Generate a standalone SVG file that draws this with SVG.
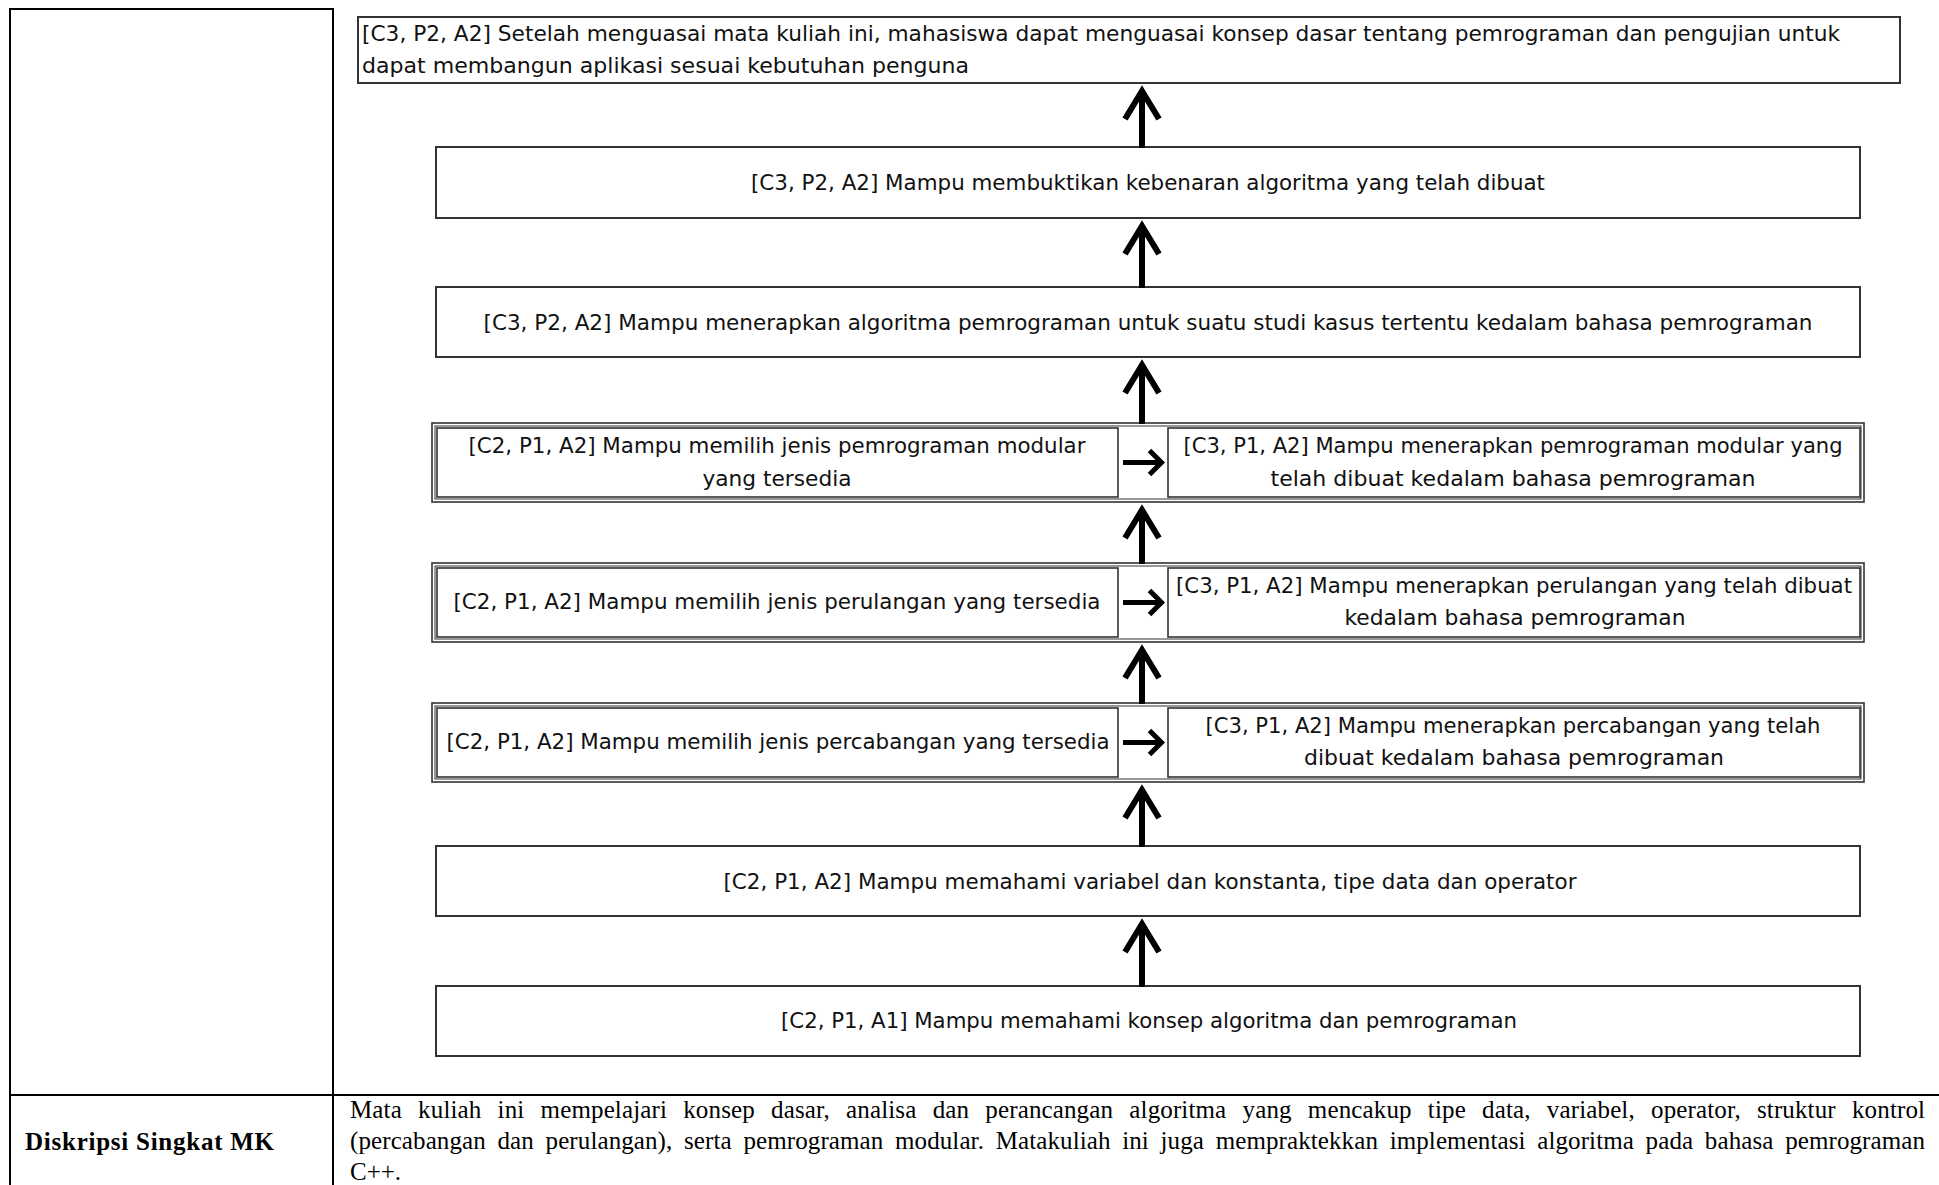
<svg xmlns="http://www.w3.org/2000/svg" width="1939" height="1185" viewBox="0 0 1939 1185">
<style>
.tbl{stroke:#000;stroke-width:2;fill:none}
.box{fill:#fff;stroke:#333;stroke-width:2}
.outer{fill:#fff;stroke:#333;stroke-width:1.6}
.frame{fill:none;stroke:#333;stroke-width:1}
.inbox{fill:#fff;stroke:#333;stroke-width:1.6}
.t{font-family:"DejaVu Sans","Open Sans",sans-serif;font-size:20.5px;fill:#111}
.c{text-anchor:middle}
.s{font-family:"Liberation Serif","Times New Roman",serif;font-size:25px;fill:#000}
.b{font-weight:bold}
.av{stroke:#000;stroke-width:6;fill:none}
.ah{stroke:#000;stroke-width:5;fill:none}
</style>
<defs>
<marker id="hv" markerUnits="userSpaceOnUse" viewBox="-40 -25 50 50" markerWidth="50" markerHeight="50" refX="0" refY="0" orient="auto" overflow="visible">
<path d="M-28,-17 L0,0 L-28,17" fill="none" stroke="#000" stroke-width="6"/>
</marker>
<marker id="hh" markerUnits="userSpaceOnUse" viewBox="-20 -20 30 40" markerWidth="30" markerHeight="40" refX="0" refY="0" orient="auto" overflow="visible">
<path d="M-12,-12 L0,0 L-12,12" fill="none" stroke="#000" stroke-width="5"/>
</marker>
</defs>
<rect width="1939" height="1185" fill="#fff"/>
<g id="table">
<line class="tbl" x1="10" y1="9" x2="10" y2="1185"/>
<line class="tbl" x1="9" y1="9" x2="334" y2="9"/>
<line class="tbl" x1="333" y1="8" x2="333" y2="1185"/>
<line class="tbl" x1="9" y1="1095" x2="1939" y2="1095"/>
</g>
<g id="n_goal">
<rect class="box" x="358" y="17" width="1542" height="66"/>
<text class="t" x="362" y="41" textLength="1478" lengthAdjust="spacingAndGlyphs">[C3, P2, A2] Setelah menguasai mata kuliah ini, mahasiswa dapat menguasai konsep dasar tentang pemrograman dan pengujian untuk</text>
<text class="t" x="362" y="73" textLength="607" lengthAdjust="spacingAndGlyphs">dapat membangun aplikasi sesuai kebutuhan penguna</text>
</g>
<g id="n_bukti">
<rect class="box" x="436" y="147" width="1424" height="71"/>
<text class="t c" x="1148" y="190" textLength="794" lengthAdjust="spacingAndGlyphs">[C3, P2, A2] Mampu membuktikan kebenaran algoritma yang telah dibuat</text>
</g>
<g id="n_terap">
<rect class="box" x="436" y="287" width="1424" height="70"/>
<text class="t c" x="1148" y="330" textLength="1329" lengthAdjust="spacingAndGlyphs">[C3, P2, A2] Mampu menerapkan algoritma pemrograman untuk suatu studi kasus tertentu kedalam bahasa pemrograman</text>
</g>
<g id="n_modular">
<rect class="outer" x="432" y="423" width="1432" height="79"/>
<rect class="frame" x="435" y="426" width="1426" height="73"/>
<rect class="inbox" x="437" y="428" width="681" height="69"/>
<rect class="inbox" x="1168" y="428" width="692" height="69"/>
<text class="t c" x="777" y="453" textLength="617" lengthAdjust="spacingAndGlyphs">[C2, P1, A2] Mampu memilih jenis pemrograman modular</text>
<text class="t c" x="777" y="486" textLength="149" lengthAdjust="spacingAndGlyphs">yang tersedia</text>
<text class="t c" x="1513" y="453" textLength="659" lengthAdjust="spacingAndGlyphs">[C3, P1, A2] Mampu menerapkan pemrograman modular yang</text>
<text class="t c" x="1513" y="486" textLength="485" lengthAdjust="spacingAndGlyphs">telah dibuat kedalam bahasa pemrograman</text>
</g>
<g id="n_perulangan">
<rect class="outer" x="432" y="563" width="1432" height="79"/>
<rect class="frame" x="435" y="566" width="1426" height="73"/>
<rect class="inbox" x="437" y="568" width="681" height="69"/>
<rect class="inbox" x="1168" y="568" width="692" height="69"/>
<text class="t c" x="777" y="609" textLength="647" lengthAdjust="spacingAndGlyphs">[C2, P1, A2] Mampu memilih jenis perulangan yang tersedia</text>
<text class="t c" x="1514" y="593" textLength="676" lengthAdjust="spacingAndGlyphs">[C3, P1, A2] Mampu menerapkan perulangan yang telah dibuat</text>
<text class="t c" x="1515" y="625" textLength="341" lengthAdjust="spacingAndGlyphs">kedalam bahasa pemrograman</text>
</g>
<g id="n_percabangan">
<rect class="outer" x="432" y="703" width="1432" height="79"/>
<rect class="frame" x="435" y="706" width="1426" height="73"/>
<rect class="inbox" x="437" y="708" width="681" height="69"/>
<rect class="inbox" x="1168" y="708" width="692" height="69"/>
<text class="t c" x="778" y="749" textLength="663" lengthAdjust="spacingAndGlyphs">[C2, P1, A2] Mampu memilih jenis percabangan yang tersedia</text>
<text class="t c" x="1513" y="733" textLength="615" lengthAdjust="spacingAndGlyphs">[C3, P1, A2] Mampu menerapkan percabangan yang telah</text>
<text class="t c" x="1514" y="765" textLength="420" lengthAdjust="spacingAndGlyphs">dibuat kedalam bahasa pemrograman</text>
</g>
<g id="n_variabel">
<rect class="box" x="436" y="846" width="1424" height="70"/>
<text class="t c" x="1150" y="889" textLength="853" lengthAdjust="spacingAndGlyphs">[C2, P1, A2] Mampu memahami variabel dan konstanta, tipe data dan operator</text>
</g>
<g id="n_konsep">
<rect class="box" x="436" y="986" width="1424" height="70"/>
<text class="t c" x="1149" y="1028" textLength="736" lengthAdjust="spacingAndGlyphs">[C2, P1, A1] Mampu memahami konsep algoritma dan pemrograman</text>
</g>
<g id="connectors">
<line class="av" x1="1142" y1="148" x2="1142" y2="91" marker-end="url(#hv)"/>
<line class="av" x1="1142" y1="288" x2="1142" y2="226" marker-end="url(#hv)"/>
<line class="av" x1="1142" y1="424" x2="1142" y2="365" marker-end="url(#hv)"/>
<line class="av" x1="1142" y1="564" x2="1142" y2="510" marker-end="url(#hv)"/>
<line class="av" x1="1142" y1="704" x2="1142" y2="650" marker-end="url(#hv)"/>
<line class="av" x1="1142" y1="847" x2="1142" y2="790" marker-end="url(#hv)"/>
<line class="av" x1="1142" y1="987" x2="1142" y2="924" marker-end="url(#hv)"/>
<line class="ah" x1="1123" y1="462.5" x2="1161.5" y2="462.5" marker-end="url(#hh)"/>
<line class="ah" x1="1123" y1="602.5" x2="1161.5" y2="602.5" marker-end="url(#hh)"/>
<line class="ah" x1="1123" y1="742.5" x2="1161.5" y2="742.5" marker-end="url(#hh)"/>
</g>
<g id="deskripsi">
<text class="s b" x="25" y="1150" textLength="249">Diskripsi Singkat MK</text>
<text class="s" x="350" y="1118" word-spacing="9.8" textLength="1575">Mata kuliah ini mempelajari konsep dasar, analisa dan perancangan algoritma yang mencakup tipe data, variabel, operator, struktur kontrol</text>
<text class="s" x="350" y="1149" word-spacing="5.3" textLength="1575">(percabangan dan perulangan), serta pemrograman modular. Matakuliah ini juga mempraktekkan implementasi algoritma pada bahasa pemrograman</text>
<text class="s" x="350" y="1180">C++.</text>
</g>
</svg>
